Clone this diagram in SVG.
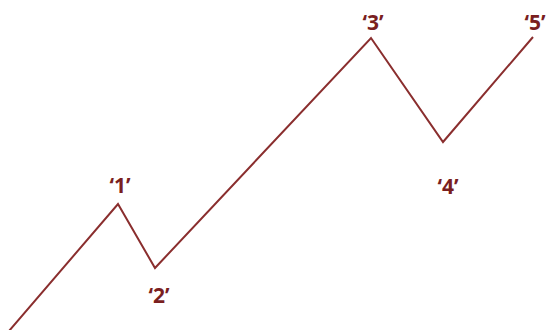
<svg xmlns="http://www.w3.org/2000/svg" width="548" height="330" viewBox="0 0 548 330">
<style>
.lbl{font-family:"Open Sans","Liberation Sans",sans-serif;font-weight:bold;font-size:21px;fill:#7a1f1f;text-anchor:middle}
.wave{fill:none;stroke:#8a2e2e;stroke-width:2;stroke-linejoin:miter}
</style>
<rect width="548" height="330" fill="#ffffff"/>
<g id="connectors">
<polyline class="wave" points="9,331 118,204 155,268 371,38 443,142 533,37"/>
</g>
<g id="n1"><text class="lbl" x="120" y="193">‘1’</text></g>
<g id="n2"><text class="lbl" x="159" y="303">‘2’</text></g>
<g id="n3"><text class="lbl" x="373" y="30">‘3’</text></g>
<g id="n4"><text class="lbl" x="448" y="194">‘4’</text></g>
<g id="n5"><text class="lbl" x="535" y="30">‘5’</text></g>
</svg>
